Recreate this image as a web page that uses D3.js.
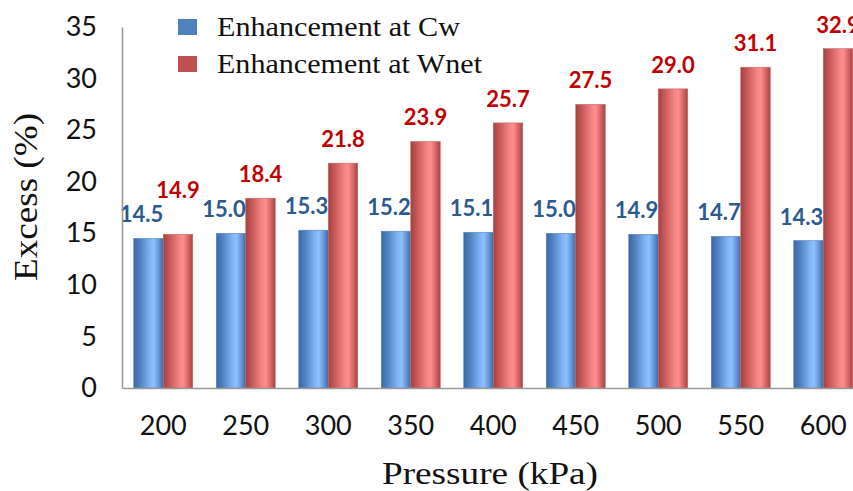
<!DOCTYPE html>
<html>
<head>
<meta charset="utf-8">
<script src="https://cdn.jsdelivr.net/npm/d3@7"></script>
<style>
  html, body { margin: 0; padding: 0; background: #fff; }
  svg { display: block; }
</style>
</head>
<body>
<svg id="chart" width="853" height="491"></svg>
<script>
// Pressure levels (kPa) on the category axis
const pressures = ["200", "250", "300", "350", "400", "450", "500", "550", "600"];
// Series names
const seriesNames = ["Enhancement at Cw", "Enhancement at Wnet"];
// Excess (%) for each series
const cwValues   = [14.5, 15.0, 15.3, 15.2, 15.1, 15.0, 14.9, 14.7, 14.3];
const wnetValues = [14.9, 18.4, 21.8, 23.9, 25.7, 27.5, 29.0, 31.1, 32.9];
// Y axis ticks
const yTicks = [0, 5, 10, 15, 20, 25, 30, 35];

const svg = d3.select("#chart");
const margin = { left: 122, top: 27, bottom: 388 };
const step = 82.5;
const plotRight = margin.left + step * pressures.length;

const x0 = d3.scaleBand()
  .domain(pressures)
  .range([margin.left, plotRight])
  .paddingInner(0.285)
  .paddingOuter(0.1425);

const keys = ["cw", "wnet"];
const x1 = d3.scaleBand().domain(keys).range([0, x0.bandwidth()]);

const y = d3.scaleLinear().domain([0, 35]).range([margin.bottom, margin.top]);

// Cylinder-style horizontal gradients for the bars
const defs = svg.append("defs");
function cylinder(id, stops) {
  const g = defs.append("linearGradient").attr("id", id)
    .attr("x1", "0%").attr("x2", "100%").attr("y1", "0%").attr("y2", "0%");
  stops.forEach(([o, c]) => g.append("stop").attr("offset", o).attr("stop-color", c));
}
cylinder("gradBlue", [["0%", "#3a67a2"], ["20%", "#4d7fbf"], ["55%", "#7fb4f5"], ["68%", "#8cc2ff"], ["85%", "#6596d6"], ["100%", "#3d6aa5"]]);
cylinder("gradRed",  [["0%", "#a34141"], ["20%", "#c65757"], ["55%", "#f58585"], ["68%", "#ff8d8d"], ["85%", "#d66565"], ["100%", "#a54343"]]);

const rows = pressures.map((p, i) => ({ p, cw: cwValues[i], wnet: wnetValues[i] }));

// Bars
const groups = svg.append("g").selectAll("g")
  .data(rows).join("g")
  .attr("transform", d => `translate(${x0(d.p)},0)`);

groups.selectAll("rect")
  .data(d => keys.map(k => ({ key: k, value: d[k] })))
  .join("rect")
  .attr("x", d => x1(d.key))
  .attr("width", x1.bandwidth())
  .attr("y", d => y(d.value))
  .attr("height", d => y(0) - y(d.value))
  .attr("fill", d => d.key === "cw" ? "url(#gradBlue)" : "url(#gradRed)")
  .attr("stroke", d => d.key === "cw" ? "#5a86bf" : "#c86a6a")
  .attr("stroke-width", 0.6);

// Value labels above the bars
const labelFont = "Lato, 'Open Sans', sans-serif";
groups.each(function (d) {
  const g = d3.select(this);
  const blueY = y(d.cw) - 16;
  let redY = y(d.wnet) - 16;
  if (Math.abs(redY - blueY) < 22) redY = blueY - 24;
  g.append("text")
    .attr("x", x1("cw") + x1.bandwidth() / 2 - 7)
    .attr("y", blueY)
    .attr("text-anchor", "middle")
    .attr("font-family", labelFont)
    .attr("font-weight", "bold")
    .attr("font-size", 22)
    .attr("fill", "#2c5a8f")
    .text(d.cw.toFixed(1));
  g.append("text")
    .attr("x", x1("wnet") + x1.bandwidth() / 2)
    .attr("y", redY)
    .attr("text-anchor", "middle")
    .attr("font-family", labelFont)
    .attr("font-weight", "bold")
    .attr("font-size", 22)
    .attr("fill", "#c00000")
    .text(d.wnet.toFixed(1));
});

// Axes
const axisColor = "#9a9a9a";
const yAxis = svg.append("g")
  .attr("transform", `translate(${margin.left},0)`)
  .call(d3.axisLeft(y).tickValues(yTicks).tickSize(0).tickPadding(25));
yAxis.select(".domain").attr("stroke", axisColor).attr("stroke-width", 1.6);
yAxis.selectAll("text")
  .attr("font-family", labelFont).attr("font-size", 27).attr("fill", "#111");

const xAxis = svg.append("g")
  .attr("transform", `translate(0,${margin.bottom})`)
  .call(d3.axisBottom(x0).tickSize(0).tickPadding(28));
xAxis.select(".domain").attr("stroke", axisColor).attr("stroke-width", 1.6);
xAxis.selectAll("text")
  .attr("font-family", labelFont).attr("font-size", 27).attr("fill", "#111");

// Axis titles
const serif = "'Liberation Serif', 'Times New Roman', serif";
svg.append("text")
  .attr("transform", "translate(37,197) rotate(-90)")
  .attr("text-anchor", "middle")
  .attr("font-family", serif)
  .attr("font-size", 33)
  .attr("textLength", 168)
  .attr("lengthAdjust", "spacingAndGlyphs")
  .attr("fill", "#111")
  .text("Excess (%)");

svg.append("text")
  .attr("x", 490)
  .attr("y", 484)
  .attr("text-anchor", "middle")
  .attr("font-family", serif)
  .attr("font-size", 32)
  .attr("textLength", 216)
  .attr("lengthAdjust", "spacingAndGlyphs")
  .attr("fill", "#111")
  .text("Pressure (kPa)");

// Legend
const legendColors = ["#4f81bd", "#c0504d"];
const legendLengths = [243, 265];
const legend = svg.append("g");
seriesNames.forEach((name, i) => {
  const ly = 19 + i * 37;
  legend.append("rect")
    .attr("x", 178).attr("y", ly).attr("width", 19).attr("height", 16)
    .attr("fill", legendColors[i]);
  legend.append("text")
    .attr("x", 217).attr("y", ly + 17)
    .attr("font-family", serif)
    .attr("font-size", 28)
    .attr("textLength", legendLengths[i])
    .attr("lengthAdjust", "spacingAndGlyphs")
    .attr("fill", "#111")
    .text(name);
});
</script>
</body>
</html>
